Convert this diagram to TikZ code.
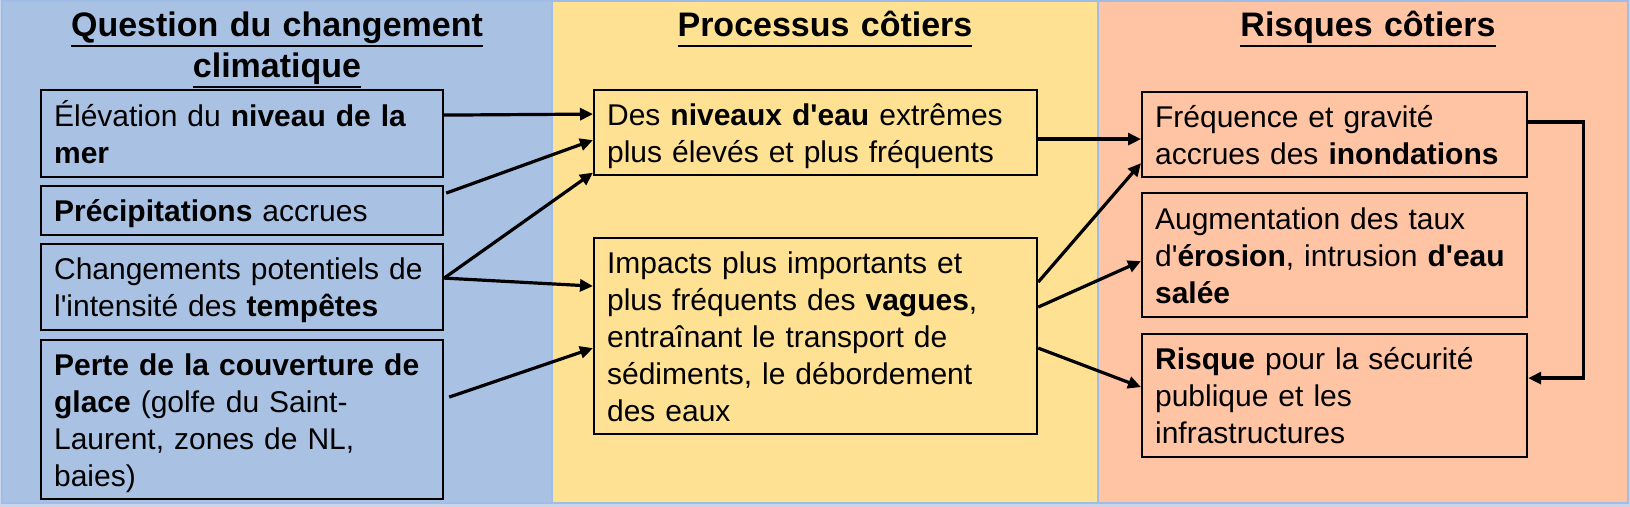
\documentclass[tikz,border=0pt]{standalone}
\usepackage{fontspec}
\setmainfont{Liberation Sans}[Ligatures=TeXOff]
\usetikzlibrary{arrows.meta}
\definecolor{clim}{HTML}{A9C2E4}
\definecolor{proc}{HTML}{FFE194}
\definecolor{risq}{HTML}{FFC4A4}
\definecolor{pageback}{HTML}{C9D5E8}
\definecolor{panelline}{HTML}{9FBDE6}
\newcommand{\headul}[1]{\leavevmode\hbox{\setbox0=\hbox{#1}\rlap{\rule[-5.1pt]{\wd0}{1.2pt}}\box0}}
\tikzset{
        panel/.style={draw=panelline,line width=0.6pt},
        box/.style={draw,line width=1.1pt,anchor=north west,align=left,
                inner xsep=6.5pt,inner ysep=2pt,text height=11pt},
        qbox/.style={box,fill=clim,text width=188pt},
        pbox/.style={box,fill=proc,text width=208.5pt},
        rbox/.style={box,fill=risq,text width=179.5pt},
        head/.style={font=\fontsize{17pt}{20.5pt}\selectfont\bfseries,anchor=base,
                align=center,text width=250pt},
        link/.style={line width=1.6pt,-{Triangle[length=6.5pt,width=6pt]}}
}

\begin{document}
\begin{tikzpicture}[x=0.5pt,y=-0.5pt,every node/.style={font=\fontsize{15pt}{18.5pt}\selectfont}]
        \fill[pageback] (0,0) rectangle (1630,507);
        \draw[panel,fill=clim] (2,1) rectangle (552,503);
        \draw[panel,fill=proc] (552,1) rectangle (1098,503);
        \draw[panel,fill=risq] (1098,1) rectangle (1628,503);

        \node[head] (tclim) at (277,37) {\headul{Question du changement}\\\headul{climatique}};
        \node[head] (tproc) at (825,37) {\headul{Processus côtiers}};
        \node[head] (trisq) at (1368,37) {\headul{Risques côtiers}};

        \node[qbox,minimum height=43.5pt,text depth=18.5pt] (q1) at (40,89)
                {Élévation du \textbf{niveau de la}\\\textbf{mer}};
        \node[qbox,minimum height=24.5pt,text depth=0pt] (q2) at (40,185)
                {\textbf{Précipitations} accrues};
        \node[qbox,minimum height=43pt,text depth=18.5pt] (q3) at (40,243)
                {Changements potentiels de\\l'intensité des \textbf{tempêtes}};
        \node[qbox,minimum height=79.5pt,text depth=55.5pt] (q4) at (40,339)
                {\textbf{Perte de la couverture de}\\\textbf{glace} (golfe du Saint-\\Laurent, zones de NL,\\baies)};

        \node[pbox,minimum height=42.5pt,text depth=18.5pt] (p1) at (593,89)
                {Des \textbf{niveaux d'eau} extrêmes\\plus élevés et plus fréquents};
        \node[pbox,minimum height=98pt,text depth=74pt] (p2) at (593,237)
                {Impacts plus importants et\\plus fréquents des \textbf{vagues},\\entraînant le transport de\\sédiments, le débordement\\des eaux};

        \node[rbox,minimum height=42.5pt,text depth=18.5pt] (r1) at (1141,91)
                {Fréquence et gravité\\accrues des \textbf{inondations}};
        \node[rbox,minimum height=62pt,text depth=37pt] (r2) at (1141,192)
                {Augmentation des taux\\d'\textbf{érosion}, intrusion \textbf{d'eau}\\\textbf{salée}};
        \node[rbox,minimum height=61.5pt,text depth=37pt] (r3) at (1141,333)
                {\textbf{Risque} pour la sécurité\\publique et les\\infrastructures};

        \draw[link] ([yshift=9.25pt]q1.east) -- ([yshift=9.25pt]p1.west);
        \draw[link] ([xshift=1pt,yshift=8.75pt]q2.east) -- ([yshift=-3.75pt]p1.west);
        \draw[link] ([yshift=4.5pt]q3.east) -- ([yshift=-20pt]p1.west);
        \draw[link] ([yshift=4.5pt]q3.east) -- ([yshift=25pt]p2.west);
        \draw[link] ([xshift=2.5pt,yshift=11.25pt]q4.east) -- ([yshift=-6pt]p2.west);
        \draw[link] ([yshift=-3.25pt]p1.east) -- ([yshift=-2.25pt]r1.west);
        \draw[link] ([yshift=27pt]p2.east) -- ([yshift=-14.25pt]r1.west);
        \draw[link] ([yshift=14.5pt]p2.east) -- ([yshift=-3pt]r2.west);
        \draw[link] ([yshift=-6pt]p2.east) -- ([yshift=4.25pt]r3.west);
        \draw[link] ([yshift=6.25pt]r1.east) -- ++(27.5pt,0) |- ([yshift=8.75pt]r3.east);
\end{tikzpicture}
\end{document}
